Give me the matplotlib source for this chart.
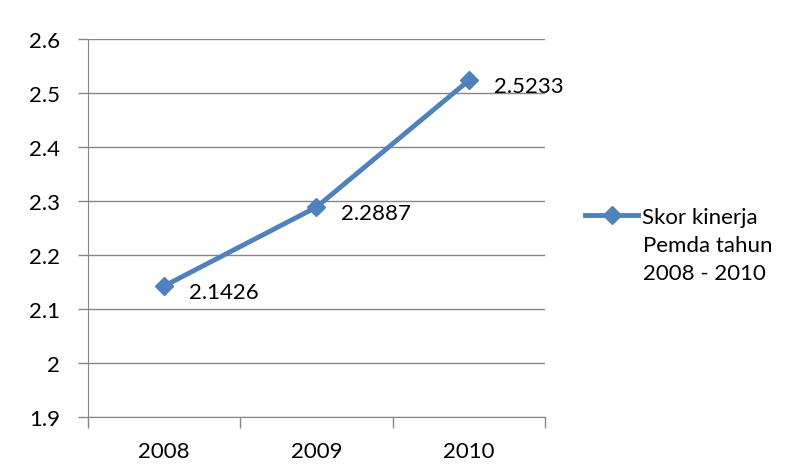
import matplotlib.pyplot as plt
import matplotlib

matplotlib.rcParams['font.family'] = ['Lato', 'DejaVu Sans']

years = ['2008', '2009', '2010']
skor = [2.1426, 2.2887, 2.5233]
legend_lines = ['Skor kinerja', 'Pemda tahun', '2008 - 2010']

fs = 16
fig = plt.figure(figsize=(8.03, 4.77), dpi=100)
ax = fig.add_axes([88 / 803, 1 - 418 / 477, (545 - 88) / 803, (418 - 40) / 477])

x = list(range(len(years)))
ax.plot(x, skor, color='#4F81BD', lw=3.5, marker='D', ms=9,
        markerfacecolor='#4F81BD', markeredgecolor='#4F81BD', label=legend_lines[0])
for xi, v in zip(x, skor):
    ax.annotate(f'{v:.4f}', (xi, v), xytext=(18, -4), textcoords='offset points',
                fontsize=fs, va='center', ha='left', color='black')

ax.set_xlim(-0.5, 2.5)
ax.set_ylim(1.9, 2.6)
ax.set_yticks([1.9, 2.0, 2.1, 2.2, 2.3, 2.4, 2.5, 2.6])
ax.set_yticklabels(['1.9', '2', '2.1', '2.2', '2.3', '2.4', '2.5', '2.6'])
ax.set_xticks(x)
ax.set_xticklabels(years)
ax.set_xticks([-0.5, 0.5, 1.5, 2.5], minor=True)
ax.tick_params(axis='x', which='major', length=0, labelsize=fs, pad=17)
ax.tick_params(axis='x', which='minor', length=8, color='#868686', width=1)
ax.tick_params(axis='y', length=7, color='#868686', width=1, labelsize=fs, pad=13)
ax.grid(axis='y', color='#868686', lw=1)
ax.set_axisbelow(True)
for s in ['top', 'right']:
    ax.spines[s].set_visible(False)
for s in ['left', 'bottom']:
    ax.spines[s].set_color('#868686')

# legend: handle next to first line, the rest of the label below it
fig.legend(loc='center left', bbox_to_anchor=(585 / 803, 1 - 218 / 477), frameon=False,
           fontsize=fs, handlelength=2.4, handletextpad=0.15, borderpad=0,
           borderaxespad=0)
for i, t in enumerate(legend_lines[1:]):
    fig.text(643 / 803, 1 - (246 + 28 * i) / 477, t, fontsize=fs, va='center', ha='left')

plt.savefig('out.png', dpi=100)
